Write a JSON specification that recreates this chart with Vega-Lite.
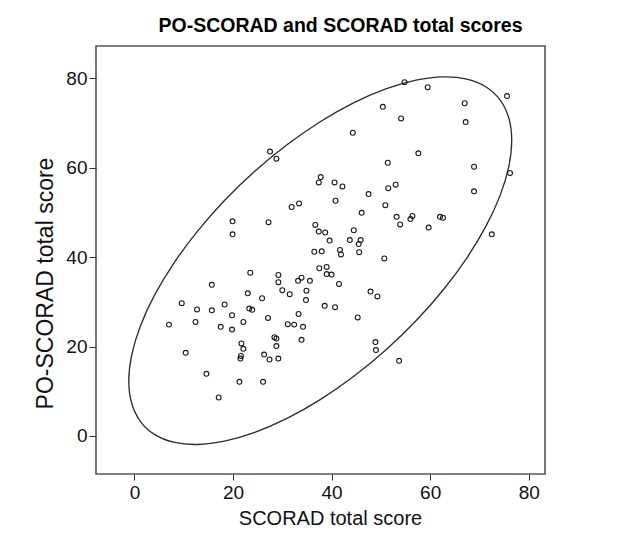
{
  "$schema": "https://vega.github.io/schema/vega-lite/v6.json",
  "width": 449,
  "height": 428,
  "autosize": {"type": "none"},
  "padding": {"left": 96, "top": 46, "right": 85, "bottom": 60},
  "background": "white",
  "config": {
    "font": "Liberation Sans",
    "view": {"stroke": "#555555", "strokeWidth": 1.6},
    "axis": {"grid": false, "domain": false, "tickColor": "#333333", "labelColor": "#111111", "titleColor": "#111111", "titleFontWeight": "normal", "labelFont": "Liberation Sans", "titleFont": "Liberation Sans"}
  },
  "title": {"text": "PO-SCORAD and SCORAD total scores", "fontSize": 19.5, "fontWeight": "bold", "color": "#000000", "anchor": "middle", "dx": 20, "offset": 10, "font": "Liberation Sans"},
  "datasets": {
    "ellipse": [
      {"t": 0, "x": 76.55, "y": 66.11}, {"t": 10, "x": 75.96, "y": 71.09}, {"t": 20, "x": 74.21, "y": 75.11},
      {"t": 30, "x": 71.35, "y": 78.04}, {"t": 40, "x": 67.46, "y": 79.78}, {"t": 50, "x": 62.67, "y": 80.30},
      {"t": 60, "x": 57.13, "y": 79.56}, {"t": 70, "x": 50.99, "y": 77.60}, {"t": 80, "x": 44.45, "y": 74.47},
      {"t": 90, "x": 37.70, "y": 70.27}, {"t": 100, "x": 30.95, "y": 65.12}, {"t": 110, "x": 24.41, "y": 59.19},
      {"t": 120, "x": 18.27, "y": 52.65}, {"t": 130, "x": 12.73, "y": 45.70}, {"t": 140, "x": 7.94, "y": 38.55},
      {"t": 150, "x": 4.05, "y": 31.43}, {"t": 160, "x": 1.19, "y": 24.54}, {"t": 170, "x": -0.56, "y": 18.09},
      {"t": 180, "x": -1.15, "y": 12.29}, {"t": 190, "x": -0.56, "y": 7.31}, {"t": 200, "x": 1.19, "y": 3.29},
      {"t": 210, "x": 4.05, "y": 0.36}, {"t": 220, "x": 7.94, "y": -1.38}, {"t": 230, "x": 12.73, "y": -1.90},
      {"t": 240, "x": 18.27, "y": -1.16}, {"t": 250, "x": 24.41, "y": 0.80}, {"t": 260, "x": 30.95, "y": 3.93},
      {"t": 270, "x": 37.70, "y": 8.13}, {"t": 280, "x": 44.45, "y": 13.28}, {"t": 290, "x": 50.99, "y": 19.21},
      {"t": 300, "x": 57.13, "y": 25.75}, {"t": 310, "x": 62.67, "y": 32.70}, {"t": 320, "x": 67.46, "y": 39.85},
      {"t": 330, "x": 71.35, "y": 46.97}, {"t": 340, "x": 74.21, "y": 53.86}, {"t": 350, "x": 75.96, "y": 60.31}
    ],
    "scores": [
      {"x": 27.5, "y": 63.6}, {"x": 28.8, "y": 62.0}, {"x": 31.9, "y": 51.2}, {"x": 33.4, "y": 52.0},
      {"x": 19.9, "y": 48.0}, {"x": 27.2, "y": 47.8}, {"x": 19.9, "y": 45.1}, {"x": 36.7, "y": 47.2},
      {"x": 37.4, "y": 45.7}, {"x": 36.5, "y": 41.2}, {"x": 54.8, "y": 79.1}, {"x": 59.5, "y": 78.0},
      {"x": 75.6, "y": 76.0}, {"x": 67.0, "y": 74.4}, {"x": 50.4, "y": 73.6}, {"x": 54.1, "y": 71.0},
      {"x": 67.2, "y": 70.2}, {"x": 44.3, "y": 67.8}, {"x": 57.6, "y": 63.2}, {"x": 51.4, "y": 61.1},
      {"x": 68.9, "y": 60.2}, {"x": 76.2, "y": 58.8}, {"x": 37.8, "y": 57.9}, {"x": 37.4, "y": 56.7},
      {"x": 40.6, "y": 56.7}, {"x": 42.2, "y": 55.8}, {"x": 53.0, "y": 56.2}, {"x": 51.5, "y": 55.4},
      {"x": 47.5, "y": 54.1}, {"x": 68.9, "y": 54.7}, {"x": 40.8, "y": 52.6}, {"x": 50.9, "y": 51.6},
      {"x": 46.1, "y": 49.9}, {"x": 53.2, "y": 49.0}, {"x": 53.9, "y": 47.3}, {"x": 56.4, "y": 49.2},
      {"x": 56.0, "y": 48.5}, {"x": 62.0, "y": 49.0}, {"x": 62.6, "y": 48.8}, {"x": 59.7, "y": 46.6},
      {"x": 72.5, "y": 45.1}, {"x": 38.7, "y": 45.5}, {"x": 44.5, "y": 46.0}, {"x": 39.6, "y": 43.7},
      {"x": 43.7, "y": 43.8}, {"x": 45.9, "y": 43.8}, {"x": 45.5, "y": 42.9}, {"x": 38.0, "y": 41.3},
      {"x": 41.7, "y": 41.6}, {"x": 41.9, "y": 40.6}, {"x": 45.6, "y": 41.1}, {"x": 50.7, "y": 39.7},
      {"x": 37.5, "y": 37.5}, {"x": 39.0, "y": 37.8}, {"x": 39.0, "y": 36.2}, {"x": 40.0, "y": 36.1},
      {"x": 33.9, "y": 35.4}, {"x": 35.6, "y": 34.7}, {"x": 41.5, "y": 34.0}, {"x": 34.9, "y": 32.5},
      {"x": 34.8, "y": 30.4}, {"x": 47.9, "y": 32.3}, {"x": 49.3, "y": 31.2}, {"x": 38.6, "y": 29.1},
      {"x": 40.7, "y": 28.8}, {"x": 34.2, "y": 24.4}, {"x": 33.9, "y": 21.5}, {"x": 45.3, "y": 26.5},
      {"x": 48.9, "y": 21.0}, {"x": 49.0, "y": 19.2}, {"x": 53.7, "y": 16.8}, {"x": 23.5, "y": 36.5},
      {"x": 29.2, "y": 36.0}, {"x": 29.2, "y": 34.4}, {"x": 33.2, "y": 34.7}, {"x": 15.7, "y": 33.8},
      {"x": 23.0, "y": 31.9}, {"x": 30.0, "y": 32.6}, {"x": 31.5, "y": 31.7}, {"x": 25.9, "y": 30.8},
      {"x": 9.6, "y": 29.7}, {"x": 18.3, "y": 29.4}, {"x": 12.7, "y": 28.3}, {"x": 15.7, "y": 28.1},
      {"x": 23.3, "y": 28.5}, {"x": 23.9, "y": 28.2}, {"x": 19.8, "y": 27.0}, {"x": 33.3, "y": 27.3},
      {"x": 27.1, "y": 26.4}, {"x": 12.4, "y": 25.5}, {"x": 22.1, "y": 25.5}, {"x": 7.0, "y": 24.9},
      {"x": 17.5, "y": 24.4}, {"x": 19.8, "y": 23.8}, {"x": 31.1, "y": 25.0}, {"x": 32.4, "y": 24.9},
      {"x": 28.4, "y": 22.1}, {"x": 28.8, "y": 21.8}, {"x": 28.8, "y": 20.1}, {"x": 21.7, "y": 20.7},
      {"x": 22.1, "y": 19.5}, {"x": 10.4, "y": 18.6}, {"x": 21.6, "y": 17.9}, {"x": 21.5, "y": 17.3},
      {"x": 26.3, "y": 18.2}, {"x": 27.4, "y": 17.1}, {"x": 29.2, "y": 17.3}, {"x": 14.6, "y": 13.9},
      {"x": 21.3, "y": 12.1}, {"x": 26.1, "y": 12.1}, {"x": 17.1, "y": 8.6}
    ]
  },
  "encoding": {
    "x": {"field": "x", "type": "quantitative", "title": "SCORAD total score",
      "scale": {"domain": [-7.8, 83.3], "nice": false, "zero": false},
      "axis": {"values": [0, 20, 40, 60, 80], "tickSize": 6, "labelPadding": 3, "labelFontSize": 19, "titleFontSize": 20, "titlePadding": 6, "titleX": 234}},
    "y": {"field": "y", "type": "quantitative", "title": "PO-SCORAD total score",
      "scale": {"domain": [-8.5, 87.2], "nice": false, "zero": false},
      "axis": {"values": [0, 20, 40, 60, 80], "tickSize": 7, "labelPadding": 2, "labelFontSize": 19, "titleFontSize": 23, "titlePadding": 8, "titleY": 237}}
  },
  "layer": [
    {
      "data": {"name": "ellipse"},
      "mark": {"type": "line", "interpolate": "cardinal-closed", "color": "#2a2a2a", "strokeWidth": 1.3},
      "encoding": {"order": {"field": "t", "type": "quantitative"}}
    },
    {
      "data": {"name": "scores"},
      "mark": {"type": "point", "shape": "circle", "filled": false, "size": 24, "stroke": "#1a1a1a", "strokeWidth": 1.1, "opacity": 1}
    }
  ]
}
